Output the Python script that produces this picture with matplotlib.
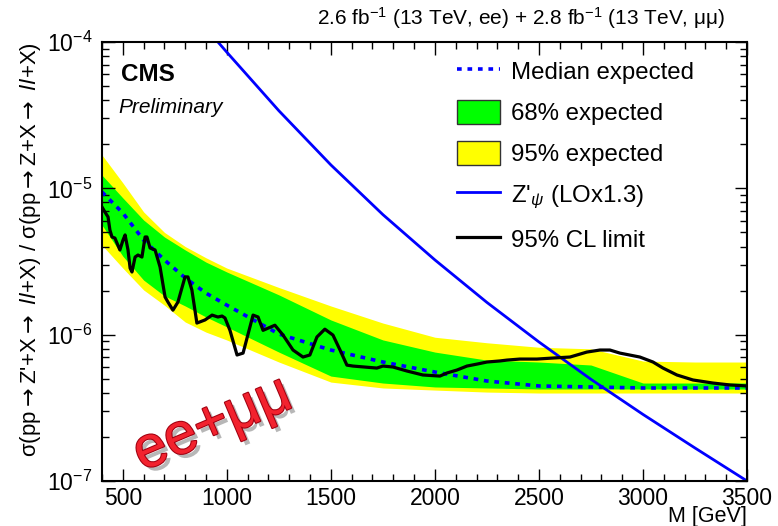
import matplotlib
matplotlib.use('Agg')
from matplotlib import pyplot as plt
from matplotlib.lines import Line2D
from matplotlib.patches import Patch
import matplotlib.patheffects as pe
from matplotlib.ticker import MultipleLocator, LogLocator, NullFormatter

plt.rcParams['font.family'] = ['Liberation Sans', 'DejaVu Sans']
plt.rcParams['mathtext.fontset'] = 'custom'
plt.rcParams['mathtext.rm'] = 'Liberation Sans'
plt.rcParams['mathtext.it'] = 'Liberation Sans:italic'
plt.rcParams['mathtext.bf'] = 'Liberation Sans:bold'

# Expected-limit bands (mass in GeV, ratio of cross sections).
bandMass = [400, 500, 600, 700, 800, 900, 1000, 1250, 1500, 1750, 2000,
            2250, 2500, 2750, 3000, 3250, 3500]
hi95 = [1.69e-5, 1.09e-5, 6.9e-6, 5.0e-6, 4.0e-6, 3.35e-6, 2.85e-6, 2.1e-6,
        1.57e-6, 1.2e-6, 9.6e-7, 8.8e-7, 8.2e-7, 8.0e-7, 6.6e-7, 6.5e-7, 6.5e-7]
hi68 = [1.23e-5, 8.6e-6, 6.07e-6, 4.65e-6, 3.79e-6, 3.13e-6, 2.68e-6, 1.87e-6,
        1.26e-6, 9.2e-7, 7.6e-7, 6.7e-7, 6.5e-7, 6.2e-7, 4.67e-7, 4.67e-7, 4.67e-7]
median = [9.44e-6, 6.78e-6, 4.43e-6, 3.24e-6, 2.44e-6, 1.92e-6, 1.59e-6, 1.01e-6,
          7.85e-7, 6.5e-7, 5.55e-7, 4.82e-7, 4.46e-7, 4.39e-7, 4.32e-7, 4.32e-7, 4.32e-7]
lo68 = [5.61e-6, 3.44e-6, 2.36e-6, 1.84e-6, 1.57e-6, 1.32e-6, 1.13e-6, 7.6e-7,
        5.21e-7, 4.67e-7, 4.39e-7, 4.32e-7, 4.25e-7, 4.25e-7, 4.25e-7, 4.25e-7, 4.25e-7]
lo95 = [4.09e-6, 2.85e-6, 2.02e-6, 1.59e-6, 1.22e-6, 1.04e-6, 9.19e-7, 6.5e-7,
        4.74e-7, 4.32e-7, 4.18e-7, 4.05e-7, 3.99e-7, 3.99e-7, 3.99e-7, 3.99e-7, 3.99e-7]

# Observed 95% CL limit.
obsMass = [400, 414, 429, 438, 448, 462, 486, 501, 511, 525, 535, 544, 559, 573,
           592, 607, 616, 631, 655, 679, 703, 717, 741, 765, 799, 813, 832, 856,
           895, 929, 957, 977, 991, 1015, 1049, 1078, 1126, 1150, 1174, 1231,
           1270, 1318, 1366, 1399, 1433, 1471, 1510, 1544, 1577, 1606, 1721,
           1750, 1798, 1866, 1942, 2024, 2058, 2106, 2154, 2202, 2250, 2312,
           2346, 2408, 2490, 2567, 2649, 2730, 2793, 2841, 2889, 2985, 3048,
           3096, 3163, 3240, 3336, 3418, 3500]
obsLimit = [7.45e-6, 6.89e-6, 6.37e-6, 5.19e-6, 4.65e-6, 4.57e-6, 3.79e-6, 4.43e-6,
            4.8e-6, 3.79e-6, 2.85e-6, 2.68e-6, 3.39e-6, 3.5e-6, 3.39e-6, 4.65e-6,
            4.65e-6, 3.91e-6, 3.79e-6, 2.9e-6, 1.81e-6, 1.67e-6, 1.47e-6, 1.67e-6,
            2.48e-6, 2.48e-6, 2.02e-6, 1.2e-6, 1.26e-6, 1.36e-6, 1.32e-6, 1.34e-6,
            1.3e-6, 1.07e-6, 7.26e-7, 7.48e-7, 1.36e-6, 1.32e-6, 1.07e-6, 1.16e-6,
            9.93e-7, 7.85e-7, 7.03e-7, 7.26e-7, 9.64e-7, 1.09e-6, 9.93e-7, 7.85e-7,
            6.19e-7, 6.1e-7, 5.91e-7, 6.1e-7, 6.01e-7, 5.64e-7, 5.3e-7, 5.21e-7,
            5.47e-7, 5.73e-7, 6.1e-7, 6.29e-7, 6.5e-7, 6.61e-7, 6.7e-7, 6.81e-7,
            6.81e-7, 6.92e-7, 7.03e-7, 7.6e-7, 7.85e-7, 7.85e-7, 7.48e-7, 7.03e-7,
            6.5e-7, 5.91e-7, 5.3e-7, 4.9e-7, 4.67e-7, 4.53e-7, 4.46e-7]

# Z'_psi theory prediction (LO x 1.3).
zpMass = [900, 1000, 1250, 1500, 1750, 2000, 2250, 2500, 2750, 3000, 3250, 3500]
zpXsec = [1.24e-4, 8.51e-5, 3.39e-5, 1.445e-5, 6.61e-6, 3.24e-6, 1.66e-6, 8.91e-7,
          4.95e-7, 2.85e-7, 1.68e-7, 1.0e-7]

if __name__ == '__main__':
  fig = plt.figure(figsize=(7.78, 5.26), dpi=100)
  ax = fig.add_axes([0.1311, 0.0856, 0.8291, 0.8346])

  # Bands, then lines on top.
  ax.fill_between(bandMass, lo95, hi95, color='#ffff00', lw=0)
  ax.fill_between(bandMass, lo68, hi68, color='#00ff00', lw=0)
  ax.plot(bandMass, median, color='#0000ff', lw=2.6, ls=(0, (1.3, 1.6)))
  ax.plot(zpMass, zpXsec, color='#0000ff', lw=2.0)
  ax.plot(obsMass, obsLimit, color='black', lw=2.3)

  # Axes setup, ROOT style ticks.
  ax.set_yscale('log')
  ax.set_xlim(400, 3500)
  ax.set_ylim(1e-7, 1e-4)
  ax.xaxis.set_major_locator(MultipleLocator(500))
  ax.xaxis.set_minor_locator(MultipleLocator(100))
  ax.yaxis.set_minor_locator(LogLocator(base=10, subs=range(2, 10)))
  ax.yaxis.set_minor_formatter(NullFormatter())
  ax.tick_params(which='both', direction='in', top=True, right=True,
                 labelsize=16.5, width=1.0)
  ax.tick_params(which='major', length=9)
  ax.tick_params(which='minor', length=5)
  ax.tick_params(axis='x', pad=4)
  ax.tick_params(axis='y', pad=7)
  for s in ax.spines.values():
    s.set_linewidth(1.5)

  ax.set_xlabel('M [GeV]', fontsize=15.5, ha='right', va='center')
  ax.xaxis.set_label_coords(1.0, -0.082)
  # Arrows from the DejaVu math font, the rest in Liberation Sans.
  ylab = ax.set_ylabel(r"σ(pp$\rightarrow$Z'+X$\rightarrow$ $\mathit{ll}$+X) / "
                       r"σ(pp$\rightarrow$Z+X$\rightarrow$ $\mathit{ll}$+X)",
                       fontsize=16, loc='top', labelpad=3)
  ylab.set_math_fontfamily('dejavusans')

  # Legend.
  handles = [
    Line2D([], [], color='#0000ff', lw=2.6, ls=(0, (1.3, 1.6))),
    Patch(facecolor='#00ff00', edgecolor='#333333', lw=1),
    Patch(facecolor='#ffff00', edgecolor='#333333', lw=1),
    Line2D([], [], color='#0000ff', lw=2.0),
    Line2D([], [], color='black', lw=2.3),
  ]
  labels = ['Median expected', '68% expected', '95% expected',
            r"Z'$_{\psi}$ (LOx1.3)", '95% CL limit']
  ax.legend(handles, labels, loc='upper left', bbox_to_anchor=(0.55, 0.962),
            frameon=False, fontsize=17.3, borderpad=0, borderaxespad=0,
            handlelength=1.82, handleheight=1.2, handletextpad=0.42,
            labelspacing=0.65)

  # Labels on the canvas.
  fig.text(725 / 778, 1 - 18 / 526,
           r'2.6 fb$^{-1}$ (13 TeV, ee) + 2.8 fb$^{-1}$ (13 TeV, μμ)',
           ha='right', va='center', fontsize=15)
  ax.text(0.029, 0.925, 'CMS', transform=ax.transAxes, fontsize=17.5,
          fontweight='bold', va='center')
  ax.text(0.025, 0.85, 'Preliminary', transform=ax.transAxes, fontsize=15,
          fontstyle='italic', va='center')
  ax.text(0.172, 0.128, 'ee+μμ', transform=ax.transAxes, fontsize=42,
          color='#f2222e', rotation=23, ha='center', va='center',
          path_effects=[pe.SimplePatchShadow(offset=(3, -3), shadow_rgbFace='#888888', alpha=0.6),
                        pe.Stroke(linewidth=1.5, foreground='#a00010'),
                        pe.Normal()])

  fig.savefig('out.png', dpi=100)
